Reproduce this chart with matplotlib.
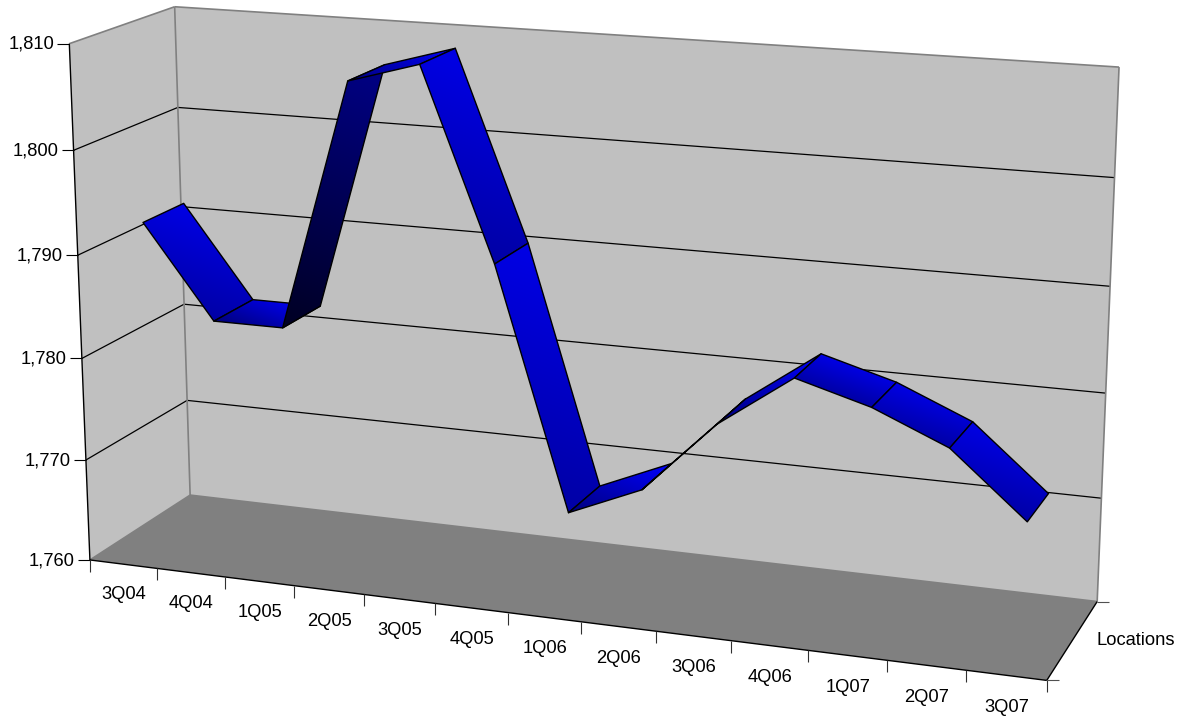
import numpy as np
import matplotlib
matplotlib.use("Agg")
import matplotlib.pyplot as plt
from matplotlib.patches import Polygon

plt.rcParams["font.family"] = ["Liberation Sans", "DejaVu Sans"]

quarters = ["3Q04", "4Q04", "1Q05", "2Q05", "3Q05", "4Q05", "1Q06", "2Q06", "3Q06", "4Q06", "1Q07", "2Q07", "3Q07"]
locations = [1792, 1783, 1783, 1807, 1809, 1791, 1768, 1771, 1778, 1783, 1781, 1778, 1772]
value_ticks = [1760, 1770, 1780, 1790, 1800, 1810]
depth_label = "Locations"

V_MIN, V_MAX = value_ticks[0], value_ticks[-1]
RIBBON_FRONT, RIBBON_BACK = 0.3, 0.7
FONT = 13.2

# box corners on the canvas, the perspective comes from these
box = [((0, 0, 0), (90, 560)), ((0, 1, 0), (69, 44)), ((0, 0, 1), (190, 495)), ((0, 1, 1), (175, 6.5)),
       ((1, 0, 1), (1097, 602)), ((1, 1, 1), (1119, 67)), ((1, 0, 0), (1047, 680))]
rows = []
for (a, b, c), (x, y) in box:
    rows.append([a, b, c, 1, 0, 0, 0, 0, -x*a, -x*b, -x*c, -x])
    rows.append([0, 0, 0, 0, a, b, c, 1, -y*a, -y*b, -y*c, -y])
P = np.linalg.svd(np.array(rows, float))[2][-1].reshape(3, 4)


def proj(cat, val, depth):
    # cat in category units, val in data units, depth 0..1
    p = P @ np.array([cat / len(quarters), (val - V_MIN) / (V_MAX - V_MIN), depth, 1.0])
    return p[0] / p[2], p[1] / p[2]


def edge(p1, p2, color="black", lw=0.9, z=2):
    ax.plot([p1[0], p2[0]], [p1[1], p2[1]], color=color, lw=lw, zorder=z, solid_capstyle="butt")


def gradient_face(pts, top, bottom, z):
    pts = np.array(pts)
    x0, y0 = pts.min(axis=0)
    x1, y1 = pts.max(axis=0)
    x0, y0, x1, y1 = x0 - 1, y0 - 1, x1 + 1, y1 + 1
    xx, yy = np.meshgrid(np.linspace(x0, x1, 60), np.linspace(y0, y1, 200))
    d = 0.35 * -xx + yy
    corners = 0.35 * -pts[:, 0] + pts[:, 1]
    t = np.clip((d - corners.min()) / max(corners.max() - corners.min(), 1e-6), 0, 1)
    blue = (top + (bottom - top) * t) / 255
    img = np.dstack([np.zeros_like(blue), np.zeros_like(blue), blue])
    im = ax.imshow(img, extent=(x0, x1, y1, y0), aspect="auto", zorder=z, interpolation="bilinear")
    poly = Polygon(pts, closed=True, transform=ax.transData, fc="none", ec="black", lw=1.0, zorder=z + 0.1, joinstyle="round")
    ax.add_patch(poly)
    im.set_clip_path(poly)


fig = plt.figure(figsize=(11.83, 7.17), dpi=100)
ax = fig.add_axes([0, 0, 1, 1])
n = len(quarters)

# walls and floor
ax.add_patch(Polygon([proj(0, V_MIN, 0), proj(0, V_MAX, 0), proj(0, V_MAX, 1), proj(0, V_MIN, 1)], fc="#C0C0C0", ec="none", zorder=1))
ax.add_patch(Polygon([proj(0, V_MIN, 1), proj(0, V_MAX, 1), proj(n, V_MAX, 1), proj(n, V_MIN, 1)], fc="#C0C0C0", ec="none", zorder=1))
ax.add_patch(Polygon([proj(0, V_MIN, 0), proj(n, V_MIN, 0), proj(n, V_MIN, 1), proj(0, V_MIN, 1)], fc="#808080", ec="none", zorder=1))

# gridlines
for v in value_ticks[1:-1]:
    edge(proj(0, v, 0), proj(0, v, 1))
    edge(proj(0, v, 1), proj(n, v, 1))

# wall outlines
gray = "#808080"
edge(proj(0, V_MAX, 0), proj(0, V_MAX, 1), gray, 1.2)
edge(proj(0, V_MAX, 1), proj(n, V_MAX, 1), gray, 1.2)
edge(proj(0, V_MAX, 1), proj(0, V_MIN, 1), gray, 1.2)
edge(proj(n, V_MAX, 1), proj(n, V_MIN, 1), gray, 1.2)
edge(proj(0, V_MIN, 0), proj(0, V_MIN, 1), gray, 1.2)
edge(proj(0, V_MIN, 1), proj(n, V_MIN, 1), gray, 1.2)

# axes lines
edge(proj(0, V_MIN, 0), proj(0, V_MAX, 0), "black", 1.0, 3)
edge(proj(0, V_MIN, 0), proj(n, V_MIN, 0), "black", 1.0, 3)
edge(proj(n, V_MIN, 0), proj(n, V_MIN, 1), "black", 1.0, 3)

# value ticks and labels
for v in value_ticks:
    x, y = proj(0, v, 0)
    edge((x - 12, y), (x, y), "black", 0.8, 3)
    ax.text(x - 15, y + 0.8, f"{v:,}", ha="right", va="center", fontsize=FONT, color="black")

# category ticks and labels
for k in range(n + 1):
    x, y = proj(k, V_MIN, 0)
    edge((x, y), (x, y + 12), "#303030", 0.8, 3)
for k, q in enumerate(quarters):
    x, y = proj(k + 0.5, V_MIN, 0)
    ax.text(x + 0.3, y + 30.5 + 2 * k / (n - 1), q, ha="center", va="center", fontsize=FONT, color="black")

# depth axis
for d in (0, 1):
    x, y = proj(n, V_MIN, d)
    edge((x, y), (x + 12, y), "#505050", 0.8, 3)
x, y = proj(n, V_MIN, 0.5)
ax.text(x + 24, y + 0.5, depth_label, ha="left", va="center", fontsize=FONT, color="black")

# the ribbon
for i in range(n - 1):
    v0, v1 = locations[i], locations[i + 1]
    face = [proj(i + 0.5, v0, RIBBON_FRONT), proj(i + 1.5, v1, RIBBON_FRONT),
            proj(i + 1.5, v1, RIBBON_BACK), proj(i + 0.5, v0, RIBBON_BACK)]
    rise = v1 - v0
    if rise > 10:
        top, bottom = 135, 35
    elif rise >= 0:
        top, bottom = 255, 125
    else:
        top, bottom = 230, 165
    gradient_face(face, top, bottom, 5 + i * 0.2)

ax.set_xlim(0, 1183)
ax.set_ylim(717, 0)
ax.axis("off")
fig.savefig("out.png", dpi=100)
